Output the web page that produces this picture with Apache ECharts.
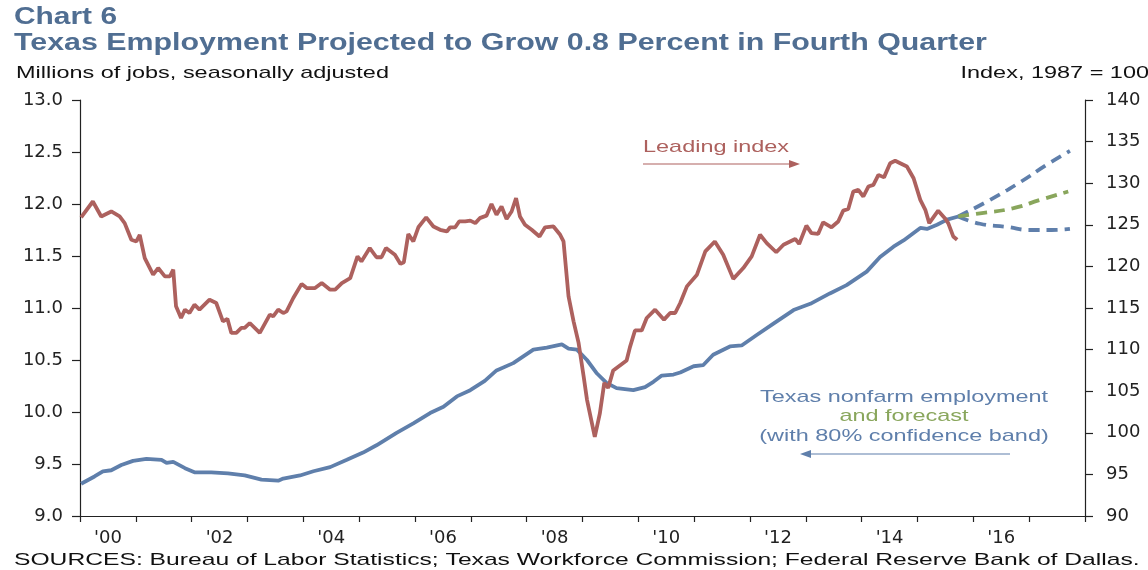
<!DOCTYPE html>
<html>
<head>
    <meta charset="utf-8">
    <title>Chart 6</title>
    <style>
        html, body { margin: 0; padding: 0; background: #fff; }
        #chart { width: 1148px; height: 570px; }
    </style>
</head>
<body>
    <div id="chart"></div>
    <script src="https://cdn.jsdelivr.net/npm/echarts@6/dist/echarts.min.js"></script>
    <script>
        // x labels (centred in each year band, every other year)
        var yearLabels = ["'00", '', "'02", '', "'04", '', "'06", '', "'08", '', "'10", '', "'12", '', "'14", '', "'16", ''];

        // Texas leading index, right axis (index, 1987 = 100)
        var leadingIndex = [
            [2000.02, 125.9], [2000.23, 127.8], [2000.38, 126.0], [2000.56, 126.6], [2000.71, 126.0],
            [2000.80, 125.2], [2000.92, 123.2], [2001.01, 123.0], [2001.07, 123.8], [2001.16, 121.0],
            [2001.31, 119.0], [2001.40, 119.8], [2001.52, 118.8], [2001.61, 118.8], [2001.67, 119.6],
            [2001.72, 115.2], [2001.81, 113.8], [2001.88, 114.8], [2001.96, 114.4], [2002.05, 115.4],
            [2002.14, 114.8], [2002.32, 116.0], [2002.44, 115.6], [2002.56, 113.4], [2002.64, 113.7],
            [2002.71, 112.0], [2002.80, 112.0], [2002.89, 112.6], [2002.95, 112.6], [2003.04, 113.2],
            [2003.22, 112.0], [2003.40, 114.2], [2003.46, 114.0], [2003.55, 114.8], [2003.64, 114.4],
            [2003.70, 114.6], [2003.82, 116.2], [2003.97, 117.9], [2004.06, 117.4], [2004.21, 117.4],
            [2004.33, 118.0], [2004.48, 117.2], [2004.57, 117.2], [2004.69, 118.0], [2004.84, 118.6],
            [2004.97, 121.2], [2005.04, 120.6], [2005.19, 122.2], [2005.31, 121.1], [2005.40, 121.1],
            [2005.48, 122.2], [2005.64, 121.4], [2005.74, 120.3], [2005.80, 120.5], [2005.88, 123.9],
            [2005.97, 123.0], [2006.06, 124.7], [2006.20, 125.9], [2006.33, 124.8], [2006.45, 124.4],
            [2006.57, 124.2], [2006.63, 124.7], [2006.72, 124.7], [2006.79, 125.4], [2006.90, 125.4],
            [2006.99, 125.5], [2007.08, 125.2], [2007.16, 125.8], [2007.28, 126.1], [2007.37, 127.5],
            [2007.46, 126.2], [2007.55, 127.2], [2007.64, 125.7], [2007.73, 126.6], [2007.81, 128.2],
            [2007.88, 126.0], [2007.97, 125.0], [2008.09, 124.4], [2008.23, 123.6], [2008.33, 124.7],
            [2008.48, 124.8], [2008.60, 123.8], [2008.66, 123.0], [2008.75, 116.4], [2008.84, 113.4],
            [2008.93, 110.8], [2009.02, 106.8], [2009.08, 104.0], [2009.22, 99.5], [2009.31, 102.3],
            [2009.39, 106.0], [2009.46, 105.4], [2009.55, 107.5], [2009.67, 108.1], [2009.79, 108.7],
            [2009.85, 110.3], [2009.94, 112.3], [2010.06, 112.3], [2010.15, 113.8], [2010.30, 114.8],
            [2010.46, 113.6], [2010.57, 114.4], [2010.66, 114.4], [2010.75, 115.6], [2010.87, 117.6],
            [2011.05, 119.0], [2011.20, 121.8], [2011.37, 123.0], [2011.52, 121.4], [2011.70, 118.5],
            [2011.88, 119.8], [2012.03, 121.2], [2012.18, 123.8], [2012.30, 122.8], [2012.47, 121.7],
            [2012.60, 122.6], [2012.81, 123.3], [2012.88, 122.7], [2013.01, 124.9], [2013.10, 124.0],
            [2013.22, 123.9], [2013.31, 125.3], [2013.46, 124.7], [2013.58, 125.4], [2013.67, 126.7],
            [2013.76, 126.9], [2013.85, 129.0], [2013.94, 129.2], [2014.03, 128.4], [2014.12, 129.6],
            [2014.21, 129.8], [2014.30, 131.0], [2014.40, 130.7], [2014.51, 132.4], [2014.60, 132.7],
            [2014.69, 132.4], [2014.81, 132.0], [2014.93, 130.6], [2015.05, 128.0], [2015.14, 126.8],
            [2015.21, 125.2], [2015.37, 126.7], [2015.49, 125.8], [2015.55, 125.2], [2015.64, 123.6],
            [2015.71, 123.2]
        ];

        // Texas nonfarm employment, left axis (millions of jobs)
        var employment = [
            [2000.02, 9.31], [2000.26, 9.38], [2000.41, 9.43], [2000.56, 9.44], [2000.74, 9.49],
            [2000.95, 9.53], [2001.19, 9.55], [2001.46, 9.54], [2001.55, 9.51], [2001.67, 9.52],
            [2001.88, 9.46], [2002.05, 9.42], [2002.35, 9.42], [2002.65, 9.41], [2002.95, 9.39],
            [2003.25, 9.35], [2003.55, 9.34], [2003.64, 9.36], [2003.94, 9.39], [2004.18, 9.43],
            [2004.48, 9.47], [2004.78, 9.54], [2005.07, 9.61], [2005.31, 9.68], [2005.67, 9.80],
            [2005.97, 9.89], [2006.27, 9.99], [2006.51, 10.05], [2006.75, 10.15], [2006.99, 10.21],
            [2007.25, 10.30], [2007.46, 10.40], [2007.76, 10.47], [2008.12, 10.60], [2008.36, 10.62],
            [2008.63, 10.65], [2008.75, 10.61], [2008.90, 10.60], [2009.08, 10.50], [2009.26, 10.37],
            [2009.43, 10.28], [2009.61, 10.23], [2009.91, 10.21], [2010.12, 10.24], [2010.27, 10.29],
            [2010.42, 10.35], [2010.63, 10.36], [2010.75, 10.38], [2010.99, 10.44], [2011.16, 10.45],
            [2011.34, 10.55], [2011.64, 10.63], [2011.85, 10.64], [2012.12, 10.74], [2012.42, 10.85],
            [2012.78, 10.98], [2013.08, 11.04], [2013.43, 11.14], [2013.73, 11.22], [2014.09, 11.35],
            [2014.33, 11.49], [2014.57, 11.59], [2014.75, 11.65], [2014.90, 11.71], [2015.05, 11.77],
            [2015.17, 11.76], [2015.35, 11.80], [2015.53, 11.85], [2015.73, 11.88]
        ];

        // forecast and 80% confidence band
        var forecast = [[2015.73, 11.88], [2016.12, 11.91], [2016.72, 11.96], [2017.20, 12.04], [2017.70, 12.12]];
        var bandUpper = [[2015.73, 11.88], [2016.30, 12.04], [2016.84, 12.21], [2017.31, 12.375], [2017.73, 12.51]];
        var bandLower = [[2015.73, 11.88], [2016.12, 11.81], [2016.60, 11.78], [2017.02, 11.75], [2017.40, 11.75], [2017.73, 11.76]];

        var FONT = '"Liberation Sans", Arial, sans-serif';
        var AXFONT = '"DejaVu Sans", "Liberation Sans", sans-serif';
        var RED = '#ad615e';
        var BLUE = '#5f7fab';
        var GREEN = '#89a65c';
        var TITLE = '#506e92';

        var chart = echarts.init(document.getElementById('chart'), null, { renderer: 'canvas' });

        var axisLine = { show: true, lineStyle: { color: '#222', width: 1.2 } };

        // text helper: the source chart's lettering is stretched sideways
        function label(text, x, y, font, fill, sx, align) {
            return {
                type: 'text', x: x, y: y, scaleX: sx,
                style: { text: text, fill: fill, font: font, align: align || 'left', verticalAlign: 'middle' }
            };
        }

        var option = {
            animation: false,
            backgroundColor: '#fff',
            textStyle: { fontFamily: FONT },
            grid: { left: 80, right: 63, top: 100, bottom: 54, containLabel: false },
            xAxis: [{
                type: 'value',
                min: 2000,
                max: 2018,
                interval: 1,
                position: 'bottom',
                axisLine: axisLine,
                axisTick: { show: true, length: 6, lineStyle: { color: '#222', width: 1.2 } },
                axisLabel: { show: false },
                splitLine: { show: false }
            }, {
                type: 'category',
                position: 'bottom',
                data: yearLabels,
                boundaryGap: true,
                axisLine: { show: false },
                axisTick: { show: false },
                axisLabel: { interval: 0, margin: 13, fontSize: 18, color: '#222', fontFamily: AXFONT },
                splitLine: { show: false }
            }],
            yAxis: [{
                type: 'value',
                position: 'left',
                min: 9,
                max: 13,
                interval: 0.5,
                axisLine: axisLine,
                axisTick: { show: true, length: 8, lineStyle: { color: '#222', width: 1.2 } },
                axisLabel: {
                    margin: 17, fontSize: 18, color: '#222', fontFamily: AXFONT,
                    formatter: function (v) { return v.toFixed(1); }
                },
                splitLine: { show: false }
            }, {
                type: 'value',
                position: 'right',
                min: 90,
                max: 140,
                interval: 5,
                axisLine: axisLine,
                axisTick: { show: true, length: 8, lineStyle: { color: '#222', width: 1.2 } },
                axisLabel: { margin: 21, fontSize: 18, color: '#222', fontFamily: AXFONT },
                splitLine: { show: false }
            }],
            series: [{
                name: 'Texas nonfarm employment',
                type: 'line',
                yAxisIndex: 0,
                data: employment,
                showSymbol: false,
                lineStyle: { color: BLUE, width: 3.8 }
            }, {
                name: 'Upper band',
                type: 'line',
                yAxisIndex: 0,
                data: bandUpper,
                smooth: true,
                showSymbol: false,
                lineStyle: { color: BLUE, width: 3.8, type: [11, 7] }
            }, {
                name: 'Lower band',
                type: 'line',
                yAxisIndex: 0,
                data: bandLower,
                smooth: true,
                showSymbol: false,
                lineStyle: { color: BLUE, width: 3.8, type: [11, 7] }
            }, {
                name: 'Forecast',
                type: 'line',
                yAxisIndex: 0,
                data: forecast,
                smooth: true,
                showSymbol: false,
                lineStyle: { color: GREEN, width: 3.8, type: [11, 7] }
            }, {
                name: 'Leading index',
                type: 'line',
                yAxisIndex: 1,
                data: leadingIndex,
                showSymbol: false,
                lineStyle: { color: RED, width: 3.8 }
            }],
            graphic: [
                label('Chart 6', 14, 18, 'bold 23px ' + FONT, TITLE, 1.3),
                label('Texas Employment Projected to Grow 0.8 Percent in Fourth Quarter', 14, 44, 'bold 23px ' + FONT, TITLE, 1.32),
                label('Millions of jobs, seasonally adjusted', 16, 73, '17px ' + FONT, '#111', 1.38),
                label('Index, 1987 = 100', 1149, 73, '17px ' + FONT, '#111', 1.38, 'right'),
                label('SOURCES: Bureau of Labor Statistics; Texas Workforce Commission; Federal Reserve Bank of Dallas.', 14, 560, '17px ' + FONT, '#111', 1.45),
                // leading index label + arrow
                label('Leading index', 643, 147, '17px ' + FONT, RED, 1.38),
                { type: 'line', shape: { x1: 643, y1: 164, x2: 792, y2: 164 }, style: { stroke: RED, lineWidth: 1.2 } },
                { type: 'polygon', shape: { points: [[800, 164], [789, 160], [789, 168]] }, style: { fill: RED } },
                // employment label + arrow
                label('Texas nonfarm employment', 904, 397, '17px ' + FONT, BLUE, 1.38, 'center'),
                label('and forecast', 904, 416, '17px ' + FONT, GREEN, 1.38, 'center'),
                label('(with 80% confidence band)', 904, 436, '17px ' + FONT, BLUE, 1.38, 'center'),
                { type: 'line', shape: { x1: 808, y1: 454, x2: 1010, y2: 454 }, style: { stroke: BLUE, lineWidth: 1.2 } },
                { type: 'polygon', shape: { points: [[800, 454], [811, 450], [811, 458]] }, style: { fill: BLUE } }
            ]
        };

        chart.setOption(option);
        window.addEventListener('resize', function () {
            chart.resize();
        });
    </script>
</body>
</html>
